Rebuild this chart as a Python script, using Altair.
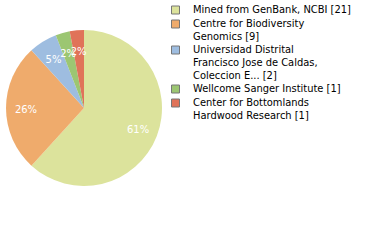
import altair as alt
import pandas as pd

names = [
    "Mined from GenBank, NCBI [21]",
    "Centre for Biodiversity|Genomics [9]",
    "Universidad Distrital|Francisco Jose de Caldas,|Coleccion E... [2]",
    "Wellcome Sanger Institute [1]",
    "Center for Bottomlands|Hardwood Research [1]",
]
counts = [21, 9, 2, 1, 1]
colors = ["#dce39c", "#efab6c", "#9ebde0", "#9cc672", "#e07359"]

df = pd.DataFrame({"name": names, "count": counts, "idx": list(range(len(names)))})

base = alt.Chart(df).transform_joinaggregate(
    total="sum(count)"
).transform_calculate(
    pct="floor(datum.count / datum.total * 100) + '%'"
).encode(
    theta=alt.Theta("count:Q", stack=True),
    order=alt.Order("idx:Q"),
    color=alt.Color(
        "name:N",
        scale=alt.Scale(domain=names, range=colors),
        legend=alt.Legend(
            title=None,
            orient="none",
            legendX=170,
            legendY=4.5,
            symbolType="square",
            symbolSize=64,
            symbolStrokeColor="#777777",
            symbolStrokeWidth=1,
            labelFont="DejaVu Sans Condensed",
            labelFontSize=11,
            labelColor="#000000",
            labelLimit=300,
            labelOffset=12,
            rowPadding=1,
            labelExpr="split(datum.label, '|')",
        ),
    ),
)

pie = base.mark_arc(outerRadius=78, x=84, y=108, strokeWidth=0)
text = base.mark_text(radius=58, x=84, y=109.5, fill="white", fontSize=10, font="DejaVu Sans").encode(
    text="pct:N"
)

chart = alt.layer(pie, text).properties(
    width=380, height=240, padding=0, autosize="none"
).configure_view(stroke=None)

chart.save("out.html", embed_options={"renderer": "svg", "actions": False})
